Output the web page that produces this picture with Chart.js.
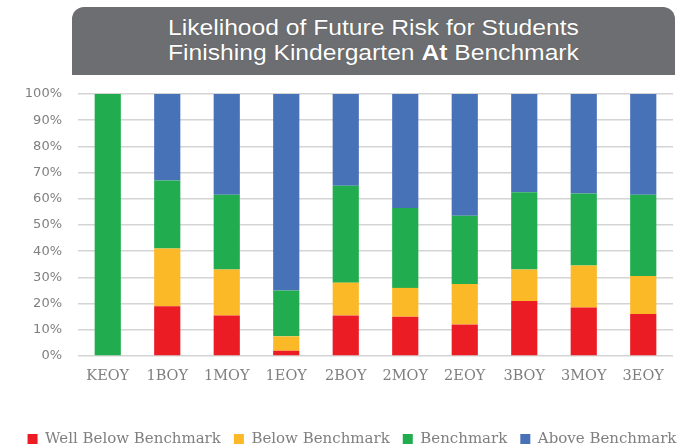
<!DOCTYPE html>
<html>
<head>
<meta charset="utf-8">
<script src="https://cdn.jsdelivr.net/npm/chart.js@4"></script>
<style>
  html, body { margin: 0; padding: 0; background: #fff; overflow: hidden; }
  #wrap { position: relative; width: 687px; height: 448px; }
  #title {
    position: absolute; left: 72px; top: 7px; width: 603px; height: 68px;
    background: #6d6e71; border-radius: 12px 12px 0 0;
    color: #fff; font-family: "Liberation Sans", Arial, sans-serif; font-size: 22px;
    text-align: center; line-height: 25px; box-sizing: border-box; padding-top: 8px;
    text-shadow: 0 0 1px rgba(0,0,0,0.3);
  }
  #title span { display: inline-block; transform: scaleX(1.12); white-space: nowrap; }
  canvas { position: absolute; left: 0; top: 0; }
</style>
</head>
<body>
<div id="wrap">
  <canvas id="c" width="687" height="448"></canvas>
  <div id="title"><span>Likelihood of Future Risk for Students</span><br><span>Finishing Kindergarten <b>At</b> Benchmark</span></div>
</div>
<script>
const categories = ["KEOY", "1BOY", "1MOY", "1EOY", "2BOY", "2MOY", "2EOY", "3BOY", "3MOY", "3EOY"];
const wellBelow = [0, 19, 15.5, 2, 15.5, 15, 12, 21, 18.5, 16];
const below     = [0, 22, 17.5, 5.5, 12.5, 11, 15.5, 12, 16, 14.5];
const benchmark = [100, 26, 28.5, 17.5, 37, 30.5, 26, 29.5, 27.5, 31];
const above     = [0, 33, 38.5, 75, 35, 43.5, 46.5, 37.5, 38, 38.5];
const yTicks = [0, 10, 20, 30, 40, 50, 60, 70, 80, 90, 100];

const seriesNames = ["Well Below Benchmark", "Below Benchmark", "Benchmark", "Above Benchmark"];
const seriesColors = ["#ec1c24", "#fbb927", "#21ad4f", "#4872b8"];
const seriesData = [wellBelow, below, benchmark, above];

new Chart(document.getElementById("c"), {
  type: "bar",
  data: {
    labels: categories,
    datasets: seriesData.map((d, i) => ({
      label: seriesNames[i],
      data: d,
      backgroundColor: seriesColors[i],
      borderWidth: 0,
      categoryPercentage: 1,
      barPercentage: 0.44
    }))
  },
  options: {
    responsive: false,
    animation: false,
    layout: { padding: { top: 94, right: -4.5, left: 12.5, bottom: -8.5 } },
    plugins: {
      title: { display: false },
      tooltip: { enabled: false },
      legend: {
        position: "bottom",
        labels: {
          boxWidth: 10, boxHeight: 10, padding: 13,
          color: "#7f7f7f",
          font: { family: "DejaVu Serif", size: 15 }
        }
      }
    },
    scales: {
      x: {
        stacked: true,
        grid: { display: false, drawTicks: false },
        border: { display: false },
        ticks: { color: "#7f7f7f", padding: 12, font: { family: "DejaVu Serif", size: 14.5 } },
        afterFit: (s) => { s.height = 62.5; }
      },
      y: {
        stacked: true,
        min: 0, max: 100,
        afterBuildTicks: (s) => { s.ticks = yTicks.map(v => ({ value: v })); },
        grid: { color: "#d4d4d4", lineWidth: 1.5, drawTicks: false },
        border: { display: false },
        ticks: { color: "#7f7f7f", padding: 16, font: { family: "DejaVu Sans", size: 13 }, callback: (v) => v + "%" },
        afterFit: (s) => { s.width = 65.5; }
      },
      yRight: {
        type: "linear",
        position: "right",
        display: true,
        grid: { display: false, drawTicks: false },
        border: { display: false },
        ticks: { display: false },
        afterFit: (s) => { s.width = 18.5; }
      }
    }
  }
});
</script>
</body>
</html>
